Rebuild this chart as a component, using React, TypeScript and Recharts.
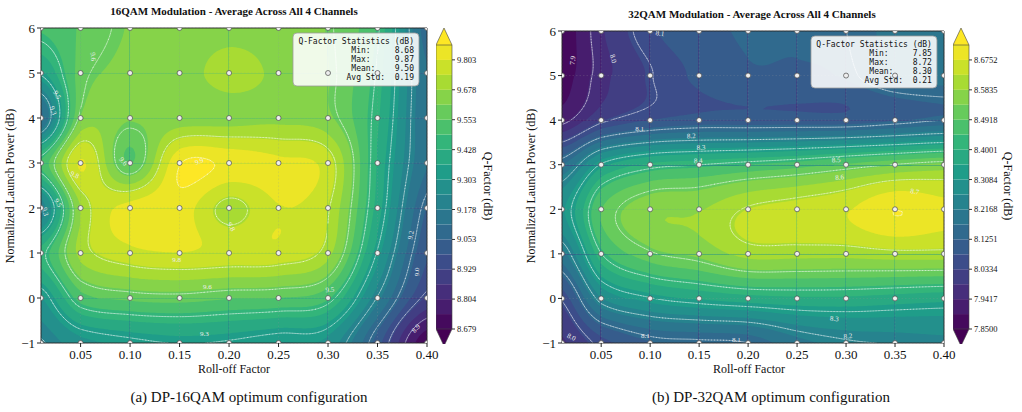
import React from 'react';
import { ScatterChart, Scatter, XAxis, YAxis, CartesianGrid, ReferenceArea } from 'recharts';

const ROLL_OFF = [0.01, 0.05, 0.1, 0.15, 0.2, 0.25, 0.3, 0.35, 0.4];
const LAUNCH_POWER = [-1, 0, 1, 2, 3, 4, 5, 6];
const X_TICKS = [0.05, 0.1, 0.15, 0.2, 0.25, 0.3, 0.35, 0.4];
const Y_TICKS = [-1, 0, 1, 2, 3, 4, 5, 6];

// Q-factor (dB) per grid point, one row per launch power, listed from 6 dB down to -1 dB
const Q16_ROWS = [
  [9.5, 9.56, 9.62, 9.63, 9.65, 9.64, 9.61, 9.48, 9.08],
  [9.35, 9.58, 9.63, 9.64, 9.71, 9.66, 9.62, 9.46, 9.12],
  [9.1, 9.62, 9.62, 9.64, 9.65, 9.66, 9.63, 9.44, 9.12],
  [9.5, 9.81, 9.55, 9.86, 9.85, 9.82, 9.77, 9.42, 9.12],
  [9.2, 9.68, 9.83, 9.84, 9.71, 9.8, 9.74, 9.4, 9.05],
  [9.45, 9.7, 9.78, 9.8, 9.78, 9.78, 9.7, 9.33, 9.0],
  [9.3, 9.52, 9.57, 9.58, 9.56, 9.55, 9.5, 9.2, 8.92],
  [9.2, 9.28, 9.32, 9.34, 9.33, 9.3, 9.28, 9.02, 8.68],
];

const Q32_ROWS = [
  [7.86, 7.98, 8.07, 8.11, 8.13, 8.13, 8.14, 8.19, 8.21],
  [7.87, 7.97, 8.04, 8.09, 8.12, 8.12, 8.13, 8.18, 8.19],
  [7.93, 8.03, 8.08, 8.1, 8.1, 8.1, 8.1, 8.12, 8.14],
  [8.17, 8.34, 8.41, 8.43, 8.45, 8.47, 8.5, 8.53, 8.55],
  [8.3, 8.49, 8.57, 8.58, 8.63, 8.65, 8.67, 8.72, 8.69],
  [8.2, 8.43, 8.52, 8.55, 8.6, 8.6, 8.6, 8.61, 8.61],
  [8.05, 8.26, 8.33, 8.36, 8.38, 8.39, 8.39, 8.38, 8.37],
  [7.98, 8.06, 8.12, 8.13, 8.14, 8.2, 8.23, 8.24, 8.25],
];

const Q16_RANGE: [number, number] = [8.679, 9.865];
const Q32_RANGE: [number, number] = [7.85, 8.721];
const Q16_CBAR_TICKS = [8.679, 8.804, 8.929, 9.053, 9.178, 9.303, 9.428, 9.553, 9.678, 9.803];
const Q32_CBAR_TICKS = [7.85, 7.9417, 8.0334, 8.1251, 8.2168, 8.3084, 8.4001, 8.4918, 8.5835, 8.6752];

const Q16_STATS = ['Q-Factor Statistics (dB)', 'Min:     8.68', 'Max:     9.87', 'Mean:    9.50', 'Avg Std:  0.19'];
const Q32_STATS = ['Q-Factor Statistics (dB)', 'Min:     7.85', 'Max:     8.72', 'Mean:    8.30', 'Avg Std:  0.21'];

// inline contour labels: position (roll-off, power), text, rotation in degrees (ccw)
const Q16_CONTOUR_LABELS = [
  { x: 0.0625, y: 5.36, text: '9.6', angle: -85 },
  { x: 0.026, y: 4.51, text: '9.5', angle: -60 },
  { x: 0.022, y: 4.16, text: '9.3', angle: -70 },
  { x: 0.044, y: 2.73, text: '9.8', angle: -25 },
  { x: 0.093, y: 3.03, text: '9.6', angle: -50 },
  { x: 0.17, y: 3.03, text: '9.9', angle: 20 },
  { x: 0.202, y: 1.58, text: '9.8', angle: -60 },
  { x: 0.027, y: 2.11, text: '9.5', angle: -60 },
  { x: 0.014, y: 1.92, text: '9.3', angle: -80 },
  { x: 0.147, y: 0.84, text: '9.8', angle: 0 },
  { x: 0.178, y: 0.24, text: '9.6', angle: 0 },
  { x: 0.302, y: 0.18, text: '9.5', angle: 5 },
  { x: 0.175, y: -0.81, text: '9.3', angle: 0 },
  { x: 0.384, y: 1.4, text: '9.2', angle: 80 },
  { x: 0.39, y: 0.58, text: '9.0', angle: 90 },
  { x: 0.389, y: -0.68, text: '8.9', angle: 50 },
];

const Q32_CONTOUR_LABELS = [
  { x: 0.11, y: 5.94, text: '8.1', angle: -10 },
  { x: 0.0212, y: 5.34, text: '7.9', angle: 85 },
  { x: 0.062, y: 5.38, text: '8.0', angle: -75 },
  { x: 0.0893, y: 3.81, text: '8.1', angle: 0 },
  { x: 0.142, y: 3.64, text: '8.2', angle: 3 },
  { x: 0.152, y: 3.38, text: '8.3', angle: 3 },
  { x: 0.149, y: 3.08, text: '8.4', angle: 3 },
  { x: 0.29, y: 3.1, text: '8.5', angle: 5 },
  { x: 0.2935, y: 2.71, text: '8.6', angle: 5 },
  { x: 0.37, y: 2.39, text: '8.7', angle: -10 },
  { x: 0.0195, y: -0.87, text: '8.0', angle: -25 },
  { x: 0.095, y: -0.85, text: '8.1', angle: 0 },
  { x: 0.188, y: -0.93, text: '8.1', angle: 0 },
  { x: 0.302, y: -0.85, text: '8.2', angle: 5 },
  { x: 0.288, y: -0.46, text: '8.3', angle: -5 },
];

const SERIF = "'Liberation Serif', 'Times New Roman', serif";
const MONO = "'DejaVu Sans Mono', monospace";
const X_DOMAIN: [number, number] = [0.01, 0.4];
const Y_DOMAIN: [number, number] = [-1, 6];
const CHART_H = 370;
const X_AXIS_H = 27;
const Y_AXIS_W = 41;
const RIGHT_M = 13;
const SUB = 16;

const VIRIDIS = ['#440154', '#482878', '#3e4989', '#31688e', '#26828e', '#1f9e89', '#35b779', '#6ece58', '#b5de2b', '#fde725'];

function hexRgb(h: string) {
  return [parseInt(h.slice(1, 3), 16), parseInt(h.slice(3, 5), 16), parseInt(h.slice(5, 7), 16)];
}

function viridis(t: number): string {
  const c = Math.max(0, Math.min(1, t)) * 9;
  const k = Math.min(8, Math.floor(c));
  const f = c - k;
  const a = hexRgb(VIRIDIS[k]);
  const b = hexRgb(VIRIDIS[k + 1]);
  const m = (n: number) => Math.round(a[n] + (b[n] - a[n]) * f);
  return `rgb(${m(0)},${m(1)},${m(2)})`;
}

const evenly = (a: number, b: number, n: number) => Array.from({ length: n }, (_, k) => a + ((b - a) * k) / (n - 1));

const UNDER = viridis(0);
const OVER = viridis(1);
const FILL_COLORS = Array.from({ length: 20 }, (_, k) => (k < 19 ? viridis((k + 0.5) / 19) : OVER));

function catmull(p0: number, p1: number, p2: number, p3: number, t: number) {
  return 0.5 * (2 * p1 + (-p0 + p2) * t + (2 * p0 - 5 * p1 + 4 * p2 - p3) * t * t + (-p0 + 3 * p1 - 3 * p2 + p3) * t * t * t);
}

// smooth surface through the grid points (what contourf shows between samples)
function sampleField(rows: number[][], u: number, v: number) {
  const nx = rows[0].length;
  const ny = rows.length;
  const g = (ii: number, jj: number) => {
    const ci = Math.max(0, Math.min(nx - 1, ii));
    const cj = Math.max(0, Math.min(ny - 1, jj));
    return rows[ny - 1 - cj][ci];
  };
  const i = Math.min(Math.floor(u), nx - 2);
  const j = Math.min(Math.floor(v), ny - 2);
  const tu = u - i;
  const tv = v - j;
  const col: number[] = [];
  for (let m = -1; m <= 2; m++) col.push(catmull(g(i - 1, j + m), g(i, j + m), g(i + 1, j + m), g(i + 2, j + m), tu));
  return catmull(col[0], col[1], col[2], col[3], tv);
}

type Pt = { x: number; y: number; v: number };
const r2 = (n: number) => Math.round(n * 100) / 100;

function clipTri(tri: Pt[], L: number) {
  const out: { x: number; y: number }[] = [];
  for (let m = 0; m < 3; m++) {
    const p = tri[m];
    const q = tri[(m + 1) % 3];
    const pin = p.v >= L;
    const qin = q.v >= L;
    if (pin) out.push(p);
    if (pin !== qin) {
      const t = (L - p.v) / (q.v - p.v);
      out.push({ x: p.x + t * (q.x - p.x), y: p.y + t * (q.y - p.y) });
    }
  }
  if (out.length < 3) return '';
  return 'M' + out.map((o) => `${r2(o.x)} ${r2(o.y)}`).join('L') + 'Z';
}

function triSeg(tri: Pt[], c: number) {
  const pts: string[] = [];
  for (let m = 0; m < 3; m++) {
    const p = tri[m];
    const q = tri[(m + 1) % 3];
    if ((p.v >= c) !== (q.v >= c)) {
      const t = (c - p.v) / (q.v - p.v);
      pts.push(`${r2(p.x + t * (q.x - p.x))} ${r2(p.y + t * (q.y - p.y))}`);
    }
  }
  return pts.length === 2 ? `M${pts[0]}L${pts[1]}` : '';
}

const rectPath = (x0: number, y0: number, x1: number, y1: number) =>
  `M${r2(x0)} ${r2(y0)}H${r2(x1)}V${r2(y1)}H${r2(x0)}Z`;

interface PanelCfg {
  rows: number[][];
  range: [number, number];
  cbarTicks: number[];
  cbarDigits: number;
  stats: string[];
  labels: { x: number; y: number; text: string; angle: number }[];
  box: [number, number, number, number];
  title: string;
  caption: string;
  left: number;
  width: number;
  top: number;
  cbarLeft: number;
  arrow: number;
  titleX: number;
  titleY: number;
  yLabelX: number;
  xLabelX: number;
  cbarLabelX: number;
  captionX: number;
}

const PANELS: PanelCfg[] = [
  {
    rows: Q16_ROWS, range: Q16_RANGE, cbarTicks: Q16_CBAR_TICKS, cbarDigits: 3, stats: Q16_STATS,
    labels: Q16_CONTOUR_LABELS, box: [0.2646, 0.3919, 4.711, 5.889],
    title: '16QAM Modulation - Average Across All 4 Channels', caption: '(a) DP-16QAM optimum configuration',
    left: 0, width: 440, top: 28, cbarLeft: 436, arrow: 0.071,
    titleX: 234, titleY: 14.5, yLabelX: 14, xLabelX: 234, cbarLabelX: 484, captionX: 249,
  },
  {
    rows: Q32_ROWS, range: Q32_RANGE, cbarTicks: Q32_CBAR_TICKS, cbarDigits: 4, stats: Q32_STATS,
    labels: Q32_CONTOUR_LABELS, box: [0.2642, 0.3928, 4.721, 5.888],
    title: '32QAM Modulation - Average Across All 4 Channels', caption: '(b) DP-32QAM optimum configuration',
    left: 521, width: 436, top: 31, cbarLeft: 953, arrow: 0.052,
    titleX: 752, titleY: 18, yLabelX: 535, xLabelX: 749, cbarLabelX: 1004, captionX: 771,
  },
];

const CELLS: { x: number; y: number; i: number; j: number }[] = [];
for (let j = 0; j < LAUNCH_POWER.length - 1; j++) {
  for (let i = 0; i < ROLL_OFF.length - 1; i++) CELLS.push({ x: ROLL_OFF[i], y: LAUNCH_POWER[j], i, j });
}
const POINTS = LAUNCH_POWER.flatMap((y) => ROLL_OFF.map((x) => ({ x, y })));

function makeFieldShape(cfg: PanelCfg) {
  const plotW = cfg.width - RIGHT_M - Y_AXIS_W;
  const plotH = CHART_H - cfg.top - X_AXIS_H;
  const pxX = plotW / (X_DOMAIN[1] - X_DOMAIN[0]);
  const pxY = plotH / (Y_DOMAIN[1] - Y_DOMAIN[0]);
  const fillLevels = evenly(cfg.range[0], cfg.range[1], 20);
  const isoLevels = evenly(cfg.range[0], cfg.range[1], 10);

  return (props: any) => {
    const { cx, cy, payload } = props;
    const { i, j } = payload;
    const w = (ROLL_OFF[i + 1] - ROLL_OFF[i]) * pxX;
    const h = (LAUNCH_POWER[j + 1] - LAUNCH_POWER[j]) * pxY;
    const V: number[][] = [];
    let lo = Infinity;
    let hi = -Infinity;
    for (let a = 0; a <= SUB; a++) {
      const col: number[] = [];
      for (let b = 0; b <= SUB; b++) {
        const val = sampleField(cfg.rows, i + a / SUB, j + b / SUB);
        col.push(val);
        if (val < lo) lo = val;
        if (val > hi) hi = val;
      }
      V.push(col);
    }
    const E = 0.45;
    const fx = (a: number) => cx - E + (a * (w + 2 * E)) / SUB;
    const fy = (b: number) => cy + E - (b * (h + 2 * E)) / SUB;
    const lx = (a: number) => cx + (a * w) / SUB;
    const ly = (b: number) => cy - (b * h) / SUB;

    const out: React.ReactNode[] = [
      <path key="base" d={rectPath(fx(0), fy(0), fx(SUB), fy(SUB))} fill={UNDER} />,
    ];
    fillLevels.forEach((L, k) => {
      if (hi < L) return;
      let d = '';
      if (lo >= L) {
        d = rectPath(fx(0), fy(0), fx(SUB), fy(SUB));
      } else {
        for (let b = 0; b < SUB; b++) {
          let run = -1;
          for (let a = 0; a <= SUB; a++) {
            const full = a < SUB && V[a][b] >= L && V[a + 1][b] >= L && V[a][b + 1] >= L && V[a + 1][b + 1] >= L;
            if (full) {
              if (run < 0) run = a;
              continue;
            }
            if (run >= 0) {
              d += rectPath(fx(run), fy(b), fx(a), fy(b + 1));
              run = -1;
            }
            if (a === SUB) break;
            if (V[a][b] < L && V[a + 1][b] < L && V[a][b + 1] < L && V[a + 1][b + 1] < L) continue;
            const A = { x: fx(a), y: fy(b), v: V[a][b] };
            const B = { x: fx(a + 1), y: fy(b), v: V[a + 1][b] };
            const C = { x: fx(a + 1), y: fy(b + 1), v: V[a + 1][b + 1] };
            const D = { x: fx(a), y: fy(b + 1), v: V[a][b + 1] };
            d += clipTri([A, B, C], L) + clipTri([A, C, D], L);
          }
        }
      }
      if (d) out.push(<path key={`f${k}`} d={d} fill={FILL_COLORS[k]} />);
    });

    let cd = '';
    isoLevels.forEach((c) => {
      if (c < lo || c > hi) return;
      for (let b = 0; b < SUB; b++) {
        for (let a = 0; a < SUB; a++) {
          const A = { x: lx(a), y: ly(b), v: V[a][b] };
          const B = { x: lx(a + 1), y: ly(b), v: V[a + 1][b] };
          const C = { x: lx(a + 1), y: ly(b + 1), v: V[a + 1][b + 1] };
          const D = { x: lx(a), y: ly(b + 1), v: V[a][b + 1] };
          cd += triSeg([A, B, C], c) + triSeg([A, C, D], c);
        }
      }
    });
    if (cd) {
      out.push(
        <path key="iso" d={cd} fill="none" stroke="#ffffff" strokeOpacity={0.6} strokeWidth={0.6} strokeLinecap="round" />
      );
    }
    return <g>{out}</g>;
  };
}

const labelShape = (props: any) => {
  const { cx, cy, payload } = props;
  return (
    <text
      x={cx}
      y={cy}
      transform={`rotate(${-payload.angle} ${cx} ${cy})`}
      textAnchor="middle"
      dominantBaseline="central"
      fontSize={7}
      fontFamily={SERIF}
      fill="#eeeeee"
    >
      {payload.text}
    </text>
  );
};

const dotShape = (props: any) => (
  <circle cx={props.cx} cy={props.cy} r={2.5} fill="#eeeeee" stroke="#4a4a4a" strokeWidth={0.7} />
);

function makeStatsShape(lines: string[]) {
  return (props: any) => {
    const { x, y, width, height } = props;
    return (
      <g>
        <rect x={x} y={y} width={width} height={height} rx={4} fill="#ffffff" fillOpacity={0.88} stroke="#9a9a9a" strokeWidth={0.8} />
        {lines.map((t, k) => (
          <text
            key={k}
            x={x + width - 5}
            y={y + 11 + k * 9}
            textAnchor="end"
            fontFamily={MONO}
            fontSize={8}
            fill="#111"
            xmlSpace="preserve"
            style={{ whiteSpace: 'pre', fontFamily: MONO }}
          >
            {t}
          </text>
        ))}
      </g>
    );
  };
}

const tickStyle = { fontFamily: SERIF, fontSize: 13, fill: '#111' };
const fmtPower = (v: number) => (v < 0 ? `\u2212${Math.abs(v)}` : `${v}`);

function HeatPanel({ cfg }: { cfg: PanelCfg }) {
  const fieldShape = makeFieldShape(cfg);
  return (
    <div style={{ position: 'absolute', left: cfg.left, top: 0, fontFamily: SERIF }}>
      <ScatterChart width={cfg.width} height={CHART_H} margin={{ top: cfg.top, right: RIGHT_M, bottom: 0, left: 0 }}>
        <XAxis
          type="number"
          dataKey="x"
          domain={X_DOMAIN}
          allowDataOverflow
          ticks={X_TICKS}
          interval={0}
          tickFormatter={(v: number) => v.toFixed(2)}
          height={X_AXIS_H}
          axisLine={false}
          tickSize={4}
          tickMargin={3}
          tickLine={{ stroke: '#222' }}
          tick={tickStyle}
        />
        <YAxis
          type="number"
          dataKey="y"
          domain={Y_DOMAIN}
          allowDataOverflow
          ticks={Y_TICKS}
          interval={0}
          tickFormatter={fmtPower}
          width={Y_AXIS_W}
          axisLine={false}
          tickSize={4}
          tickMargin={2}
          tickLine={{ stroke: '#222' }}
          tick={tickStyle}
        />
        <Scatter data={CELLS} shape={fieldShape} isAnimationActive={false} zIndex={-200} />
        <CartesianGrid stroke="#9a9a9a" strokeOpacity={0.35} strokeDasharray="1.5 2" strokeWidth={0.6} />
        <ReferenceArea
          x1={X_DOMAIN[0]}
          x2={X_DOMAIN[1]}
          y1={Y_DOMAIN[0]}
          y2={Y_DOMAIN[1]}
          fill="none"
          fillOpacity={0}
          stroke="#222"
          strokeWidth={0.9}
          zIndex={100}
        />
        <Scatter data={cfg.labels} shape={labelShape} isAnimationActive={false} zIndex={500} />
        <ReferenceArea
          x1={cfg.box[0]}
          x2={cfg.box[1]}
          y1={cfg.box[2]}
          y2={cfg.box[3]}
          shape={makeStatsShape(cfg.stats)}
          zIndex={550}
        />
        <Scatter data={POINTS} shape={dotShape} isAnimationActive={false} zIndex={600} />
      </ScatterChart>
    </div>
  );
}

function ColorBar({ cfg }: { cfg: PanelCfg }) {
  const lv = evenly(cfg.range[0], cfg.range[1], 20);
  const [mn, mx] = cfg.range;
  const ext = cfg.arrow;
  const upArrow = (p: any) => (
    <g>
      <polygon points={`${p.x},${p.y + p.height} ${p.x + p.width},${p.y + p.height} ${p.x + p.width / 2},${p.y}`} fill={OVER} />
      <polyline points={`${p.x},${p.y + p.height} ${p.x + p.width / 2},${p.y} ${p.x + p.width},${p.y + p.height}`} fill="none" stroke="#444" strokeWidth={0.6} />
    </g>
  );
  const downArrow = (p: any) => (
    <g>
      <polygon points={`${p.x},${p.y} ${p.x + p.width},${p.y} ${p.x + p.width / 2},${p.y + p.height}`} fill={UNDER} />
      <polyline points={`${p.x},${p.y} ${p.x + p.width / 2},${p.y + p.height} ${p.x + p.width},${p.y}`} fill="none" stroke="#444" strokeWidth={0.6} />
    </g>
  );
  return (
    <div style={{ position: 'absolute', left: cfg.cbarLeft, top: 28, fontFamily: SERIF }}>
      <ScatterChart width={61} height={316} margin={{ top: 17, right: 0, bottom: 15, left: 0 }}>
        <XAxis type="number" dataKey="x" domain={[0, 1]} hide allowDataOverflow />
        <YAxis
          type="number"
          dataKey="y"
          orientation="right"
          domain={cfg.range}
          allowDataOverflow
          ticks={cfg.cbarTicks}
          interval={0}
          tickFormatter={(v: number) => v.toFixed(cfg.cbarDigits)}
          width={45}
          axisLine={false}
          tickSize={3}
          tickMargin={2}
          tickLine={{ stroke: '#333' }}
          tick={{ fontFamily: SERIF, fontSize: 8.5, fill: '#111' }}
        />
        {lv.slice(0, 19).map((l, k) => (
          <ReferenceArea key={k} x1={0} x2={1} y1={l} y2={lv[k + 1]} fill={FILL_COLORS[k]} fillOpacity={1} stroke="none" />
        ))}
        <ReferenceArea x1={0} x2={1} y1={mx} y2={mx + ext} ifOverflow="visible" shape={upArrow} />
        <ReferenceArea x1={0} x2={1} y1={mn - ext} y2={mn} ifOverflow="visible" shape={downArrow} />
        <ReferenceArea x1={0} x2={1} y1={mn} y2={mx} fill="none" fillOpacity={0} stroke="#444" strokeWidth={0.6} />
      </ScatterChart>
    </div>
  );
}

export default function App() {
  return (
    <div
      style={{
        position: 'absolute',
        left: 0,
        top: 0,
        width: 1022,
        height: 412,
        background: '#ffffff',
        overflow: 'hidden',
        fontFamily: SERIF,
      }}
    >
      <svg width={1022} height={412} style={{ position: 'absolute', left: 0, top: 0, pointerEvents: 'none' }}>
        {PANELS.map((p, k) => (
          <g key={k} fontFamily={SERIF} fill="#111">
            <text x={p.titleX} y={p.titleY} textAnchor="middle" fontSize={11} fontWeight="bold">
              {p.title}
            </text>
            <text x={p.xLabelX} y={373} textAnchor="middle" fontSize={12}>
              Roll-off Factor
            </text>
            <text x={p.yLabelX} y={186} textAnchor="middle" fontSize={12} transform={`rotate(-90 ${p.yLabelX} 186)`}>
              Normalized Launch Power (dB)
            </text>
            <text x={p.cbarLabelX} y={186} textAnchor="middle" fontSize={12} transform={`rotate(90 ${p.cbarLabelX} 186)`}>
              Q-Factor (dB)
            </text>
            <text x={p.captionX} y={402} textAnchor="middle" fontSize={15}>
              {p.caption}
            </text>
          </g>
        ))}
      </svg>
      {PANELS.map((p, k) => (
        <React.Fragment key={k}>
          <HeatPanel cfg={p} />
          <ColorBar cfg={p} />
        </React.Fragment>
      ))}
    </div>
  );
}
